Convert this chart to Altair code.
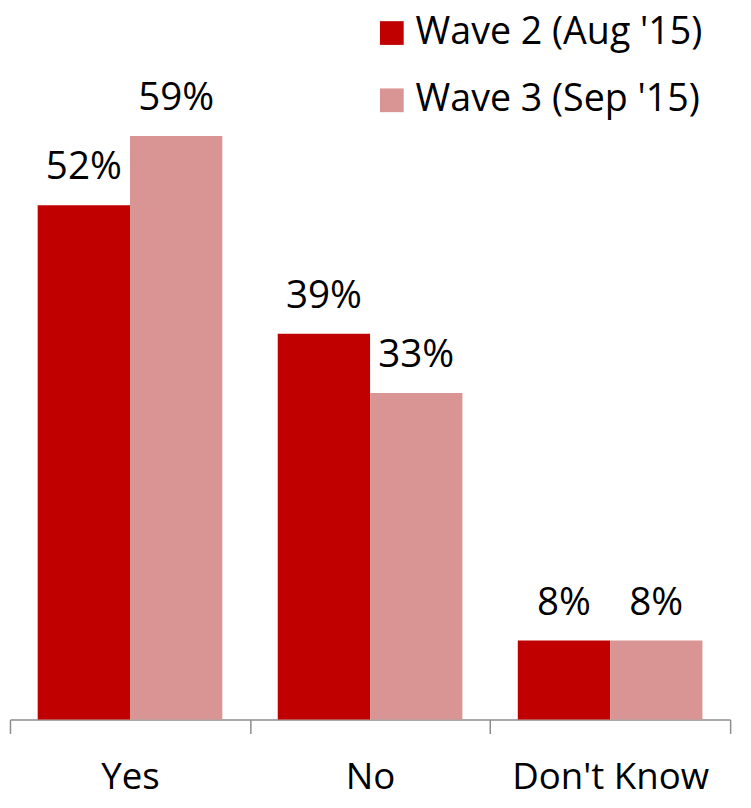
import altair as alt
import pandas as pd

categories = ["Yes", "No", "Don't Know"]
series = ["Wave 2 (Aug '15)", "Wave 3 (Sep '15)"]
wave2 = [52, 39, 8]
wave3 = [59, 33, 8]
colors = ["#C00000", "#D99594"]

rows = []
for c, a, b in zip(categories, wave2, wave3):
    rows.append({"cat": c, "wave": series[0], "val": a, "lab": f"{a}%"})
    rows.append({"cat": c, "wave": series[1], "val": b, "lab": f"{b}%"})
df = pd.DataFrame(rows)

FONT = "Open Sans"

x = alt.X("cat:N", sort=categories, title=None,
          scale=alt.Scale(paddingInner=0, paddingOuter=0),
          axis=alt.Axis(labelAngle=0, labelFontSize=37, labelFont=FONT, labelColor="#000000",
                        labelPadding=27, labelLimit=400, tickBand="extent", tickSize=14,
                        tickColor="#8C8C8C", domainColor="#8C8C8C", domainWidth=1.5, tickWidth=1.5))
y = alt.Y("val:Q", scale=alt.Scale(domain=[0, 70], nice=False), axis=None)
xo = alt.XOffset("wave:N", sort=series, scale=alt.Scale(paddingInner=0, paddingOuter=0.3))

bars = alt.Chart(df).mark_bar().encode(
    x=x, y=y, xOffset=xo,
    color=alt.Color("wave:N", sort=series, scale=alt.Scale(domain=series, range=colors),
                    legend=alt.Legend(title=None, orient="none", legendX=367, legendY=-13,
                                      symbolType="square", symbolSize=576, symbolStrokeWidth=0,
                                      labelFontSize=38, labelFont=FONT, labelColor="#000000",
                                      labelOffset=5, rowPadding=30, padding=0, labelLimit=400)),
)

text = alt.Chart(df).mark_text(fontSize=39, font=FONT, baseline="alphabetic", dy=-26, color="#000000").encode(
    x=x, y=y, xOffset=xo, text="lab:N"
)

chart = (bars + text).properties(
    width=728, height=700,
    autosize=alt.AutoSizeParams(type="none"),
    padding={"left": 2, "top": 15, "right": 13, "bottom": 77},
).configure_view(stroke=None)

chart.save("out.html", embed_options={"renderer": "svg", "actions": False})
